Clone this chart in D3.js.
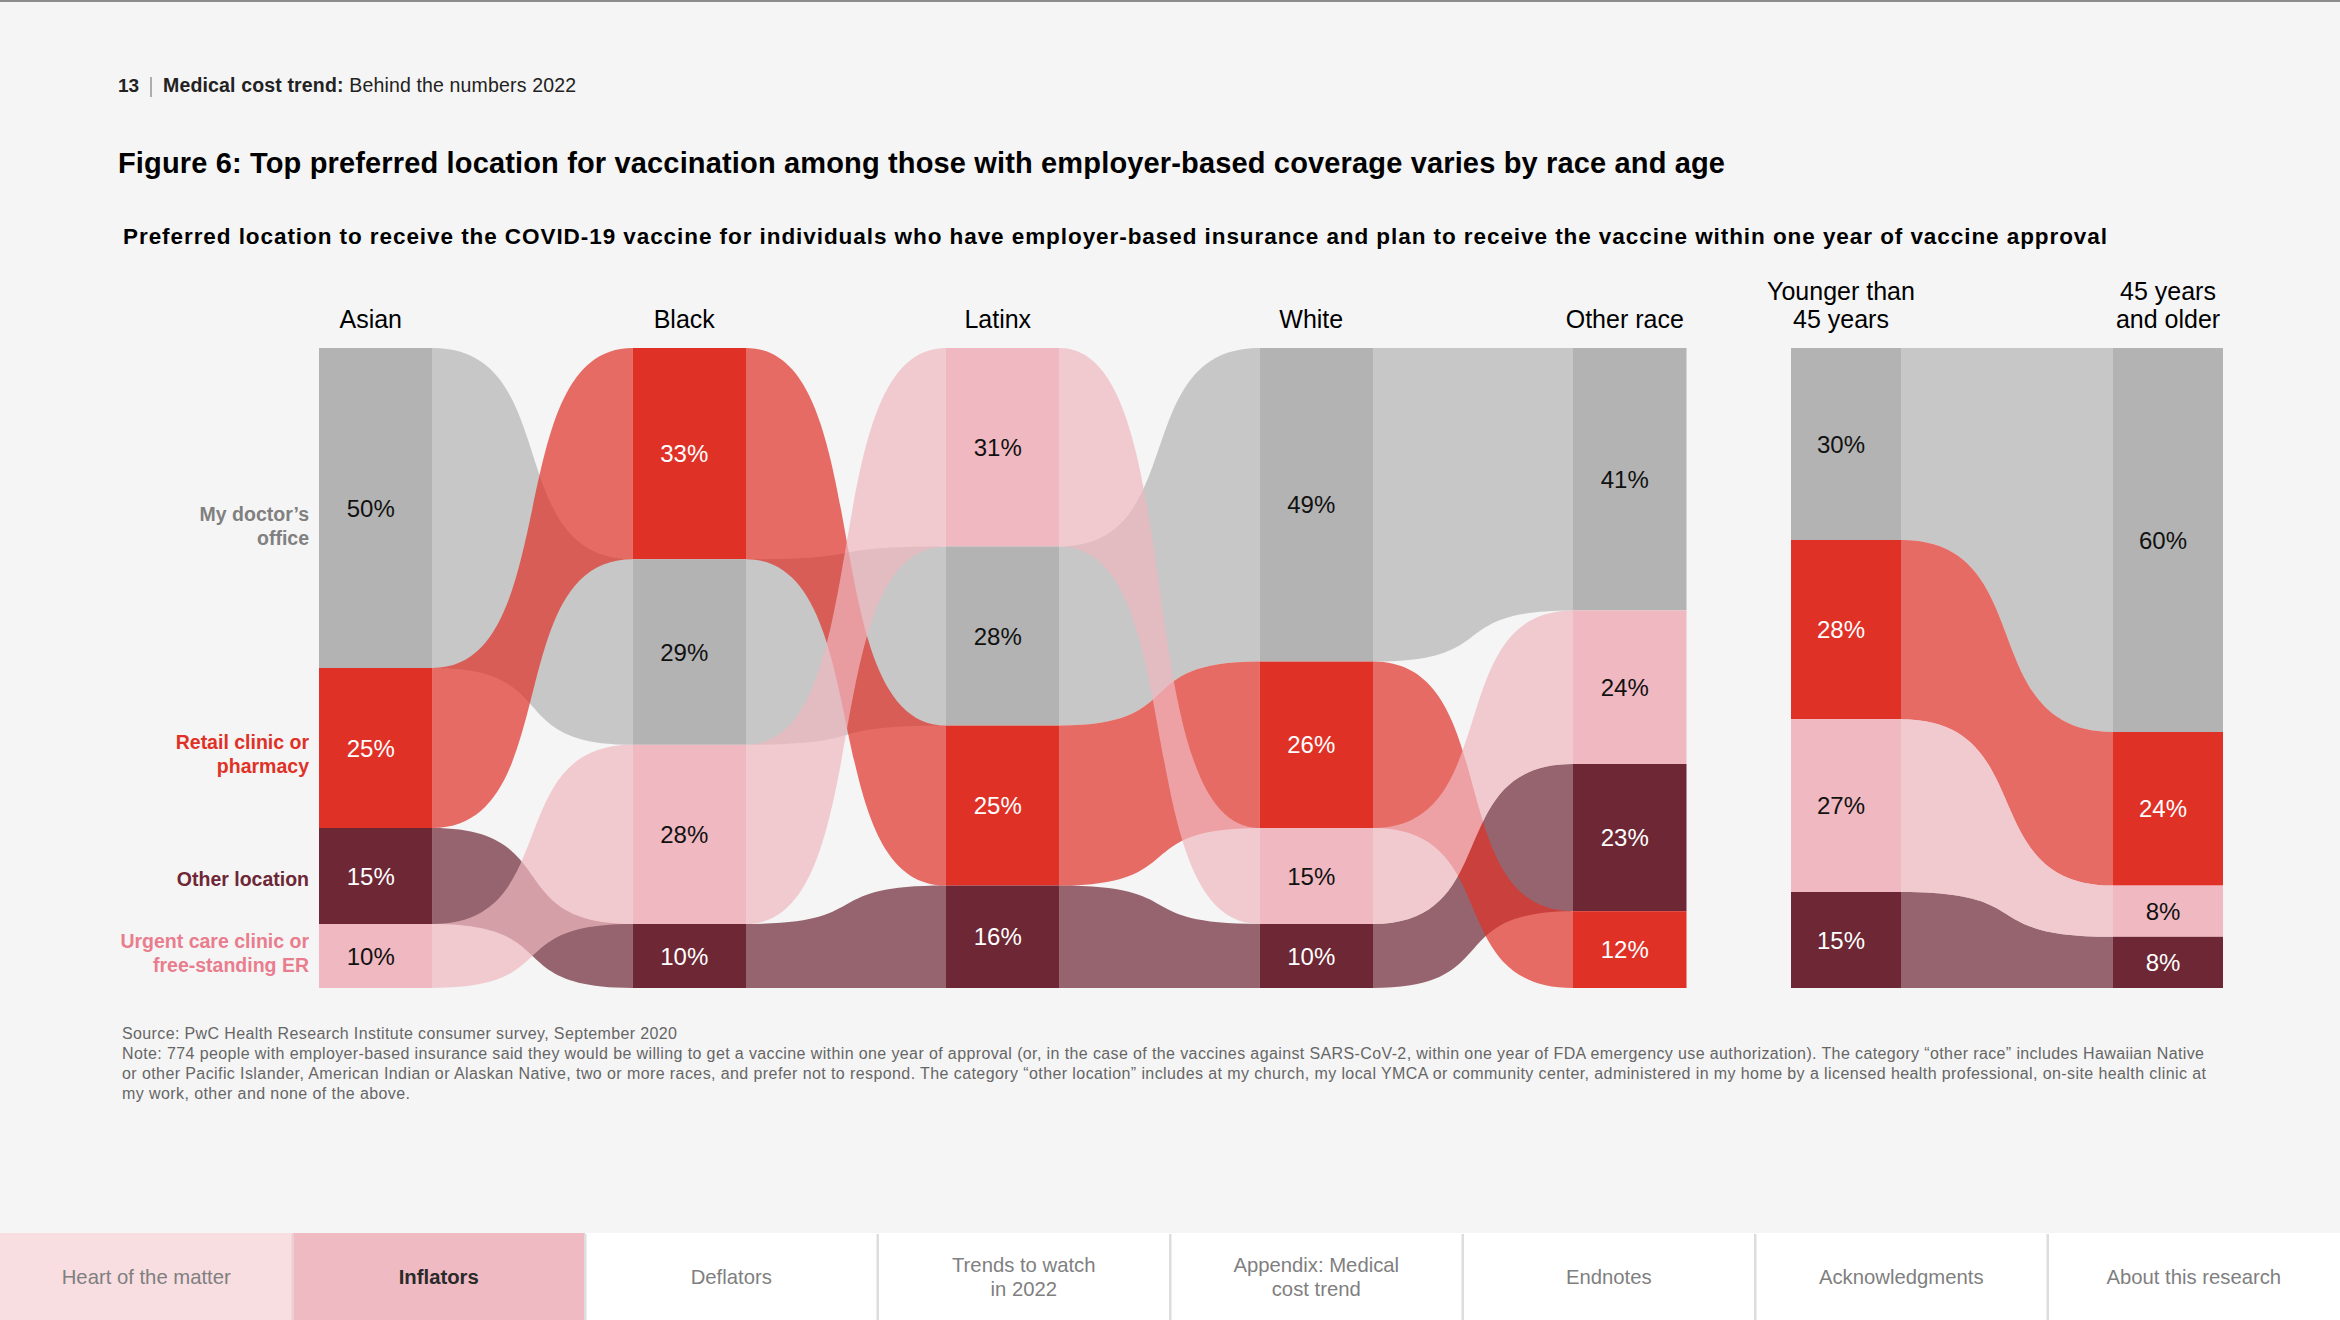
<!DOCTYPE html>
<html><head><meta charset="utf-8">
<script src="https://cdn.jsdelivr.net/npm/d3@7"></script>
<style>
html,body{margin:0;padding:0;background:#f5f5f5;}
svg{display:block;font-family:"Liberation Sans",Arial,Helvetica,sans-serif;}
</style></head><body>
<svg id="c" width="2340" height="1320"></svg>
<script>
// ---------- DATA ----------
const categories = ["doctor", "retail", "urgent", "other"];
const categoryLabels = [["My doctor’s", "office"], ["Retail clinic or", "pharmacy"], ["Urgent care clinic or", "free-standing ER"], ["Other location"]];
const raceGroups = ["Asian", "Black", "Latinx", "White", "Other race"];
const ageGroups = ["Younger than 45 years", "45 years and older"];
const ageGroupLines = [["Younger than", "45 years"], ["45 years", "and older"]];
// order of values: Asian, Black, Latinx, White, Other race, Younger than 45, 45 and older
const doctorValues = [50, 29, 28, 49, 41, 30, 60];
const retailValues = [25, 33, 25, 26, 12, 28, 24];
const urgentValues = [10, 28, 31, 15, 24, 27, 8];
const otherValues  = [15, 10, 16, 10, 23, 15, 8];
const navItems = [["Heart of the matter"], ["Inflators"], ["Deflators"], ["Trends to watch", "in 2022"], ["Appendix: Medical", "cost trend"], ["Endnotes"], ["Acknowledgments"], ["About this research"]];
const noteLines = [
  "Source: PwC Health Research Institute consumer survey, September 2020",
  "Note: 774 people with employer-based insurance said they would be willing to get a vaccine within one year of approval (or, in the case of the vaccines against SARS-CoV-2, within one year of FDA emergency use authorization). The category “other race” includes Hawaiian Native",
  "or other Pacific Islander, American Indian or Alaskan Native, two or more races, and prefer not to respond. The category “other location” includes at my church, my local YMCA or community center, administered in my home by a licensed health professional, on-site health clinic at",
  "my work, other and none of the above."
];
const noteWidths = [555, 2082, 2084, 288];

// ---------- STYLE ----------
const barColors = {doctor: "#b3b3b3", retail: "#e03127", urgent: "#f0b8c1", other: "#6d2735"};
const labelColors = {doctor: "#808080", retail: "#e03127", urgent: "#e97d8e", other: "#6d2735"};
const labelShift = {doctor: 18, retail: 6, urgent: -3, other: 3};
const textOnBar = {doctor: "#111", retail: "#fff", urgent: "#111", other: "#fff"};
const valuesByCat = {doctor: doctorValues, retail: retailValues, urgent: urgentValues, other: otherValues};

const svg = d3.select("#c");
svg.append("rect").attr("width", 2340).attr("height", 1320).attr("fill", "#f5f5f5");
svg.append("rect").attr("width", 2340).attr("height", 2).attr("fill", "#8c8c8c");

// header
const hdr = svg.append("text").attr("x", 118).attr("y", 92).attr("font-size", 19).attr("fill", "#222");
hdr.append("tspan").attr("font-weight", "bold").text("13");
svg.append("line").attr("x1", 151).attr("x2", 151).attr("y1", 77).attr("y2", 97).attr("stroke", "#666").attr("stroke-width", 1);
const hdr2 = svg.append("text").attr("x", 163).attr("y", 92).attr("font-size", 19.5).attr("fill", "#222")
  .attr("textLength", 413).attr("lengthAdjust", "spacing");
hdr2.append("tspan").attr("font-weight", "bold").text("Medical cost trend:");
hdr2.append("tspan").text(" Behind the numbers 2022");

svg.append("text").attr("x", 118).attr("y", 173).attr("font-size", 29).attr("font-weight", "bold").attr("fill", "#000")
  .attr("textLength", 1607).attr("lengthAdjust", "spacing")
  .text("Figure 6: Top preferred location for vaccination among those with employer-based coverage varies by race and age");
svg.append("text").attr("x", 123).attr("y", 244).attr("font-size", 22.5).attr("font-weight", "bold").attr("fill", "#000")
  .attr("textLength", 1984).attr("lengthAdjust", "spacing")
  .text("Preferred location to receive the COVID-19 vaccine for individuals who have employer-based insurance and plan to receive the vaccine within one year of vaccine approval");

// ---------- SCALES ----------
const y = d3.scaleLinear().domain([0, 100]).range([348, 988]);
const xRace = d3.scalePoint().domain(raceGroups).range([319, 1573]);
const xAge = d3.scalePoint().domain(ageGroups).range([1791, 2113]);
const raceW = 113.5, ageW = 110;

const columns = [];
raceGroups.forEach((g, i) => columns.push({key: g, lines: [g], x0: xRace(g), w: raceW, idx: i, panel: 0}));
ageGroups.forEach((g, i) => columns.push({key: g, lines: ageGroupLines[i], x0: xAge(g), w: ageW, idx: raceGroups.length + i, panel: 1, last: i === ageGroups.length - 1}));

columns.forEach(c => {
  const segs = categories.map((cat, ci) => ({cat, ci, v: valuesByCat[cat][c.idx]}));
  const sorted = segs.slice().sort((a, b) => (b.v - a.v) || (a.ci - b.ci));
  let acc = 0;
  sorted.forEach(s => { s.t0 = acc; acc += s.v; s.t1 = acc; });
  c.seg = {};
  sorted.forEach(s => c.seg[s.cat] = s);
  c.sorted = sorted;
});

// ---------- FLOWS ----------
const k = 0.66;
function flowPath(a, b, cat) {
  const x0 = a.x0 + a.w, x1 = b.x0, w = x1 - x0;
  const sa = a.seg[cat], sb = b.seg[cat];
  const ya0 = y(sa.t0), ya1 = y(sa.t1), yb0 = y(sb.t0), yb1 = y(sb.t1);
  const p = d3.path();
  p.moveTo(x0, ya0);
  p.bezierCurveTo(x0 + k * w, ya0, x1 - k * w, yb0, x1, yb0);
  p.lineTo(x1, yb1);
  p.bezierCurveTo(x1 - k * w, yb1, x0 + k * w, ya1, x0, ya1);
  p.closePath();
  return p.toString();
}
const links = [];
const flowOrder = ["doctor", "other", "retail", "urgent"];
flowOrder.forEach(cat => {
  for (let i = 0; i < columns.length - 1; i++) {
    if (columns[i].panel !== columns[i + 1].panel) continue;
    links.push({a: columns[i], b: columns[i + 1], cat});
  }
});
svg.append("g").selectAll("path").data(links).join("path")
  .attr("d", d => flowPath(d.a, d.b, d.cat))
  .attr("fill", d => barColors[d.cat]).attr("fill-opacity", 0.7);

// ---------- BARS ----------
const bars = svg.append("g");
columns.forEach(c => {
  const g = bars.append("g");
  g.selectAll("rect").data(c.sorted).join("rect")
    .attr("x", c.x0).attr("width", c.w)
    .attr("y", d => y(d.t0)).attr("height", d => y(d.t1) - y(d.t0))
    .attr("fill", d => barColors[d.cat]);
  g.selectAll("text").data(c.sorted).join("text")
    .attr("x", c.x0 + c.w / 2 - 5).attr("y", d => (y(d.t0) + y(d.t1)) / 2)
    .attr("dy", "0.36em").attr("text-anchor", "middle").attr("font-size", 24)
    .attr("fill", d => textOnBar[d.cat]).text(d => d.v + "%");
  // column header
  const hx = c.x0 + c.w / 2 - (c.last ? 0 : 5);
  const n = c.lines.length;
  const ht = svg.append("text").attr("text-anchor", "middle").attr("font-size", 25).attr("fill", "#000");
  c.lines.forEach((ln, li) => {
    ht.append("tspan").attr("x", hx).attr("y", 328 - (n - 1 - li) * 28.5).text(ln);
  });
});

// ---------- ROW LABELS ----------
const first = columns[0];
categories.forEach((cat, ci) => {
  const s = first.seg[cat];
  const lines = categoryLabels[ci];
  const cy = (y(s.t0) + y(s.t1)) / 2 + labelShift[cat];
  const t = svg.append("text").attr("text-anchor", "end").attr("font-size", 19.5).attr("font-weight", "bold").attr("fill", labelColors[cat]);
  lines.forEach((ln, li) => {
    t.append("tspan").attr("x", 309).attr("y", cy + 7 + (li - (lines.length - 1) / 2) * 23.5).text(ln);
  });
});

// ---------- NOTES ----------
noteLines.forEach((ln, i) => {
  svg.append("text").attr("x", 122).attr("y", 1039 + i * 20).attr("font-size", 16).attr("fill", "#666")
    .attr("textLength", noteWidths[i]).attr("lengthAdjust", "spacing").text(ln);
});

// ---------- NAV ----------
const tabW = 2340 / navItems.length;
const nav = svg.append("g");
navItems.forEach((lines, i) => {
  const bg = i === 0 ? "#f8dde1" : (i === 1 ? "#f0bac3" : "#ffffff");
  nav.append("rect").attr("x", i * tabW).attr("y", 1233).attr("width", tabW).attr("height", 87).attr("fill", bg);
  if (i > 0) nav.append("rect").attr("x", i * tabW - 1).attr("y", 1234).attr("width", 2.5).attr("height", 86).attr("fill", i === 1 ? "#ead0d4" : "#dddddd");
  const t = nav.append("text").attr("text-anchor", "middle").attr("font-size", 20.3)
    .attr("fill", i === 1 ? "#2a2a2a" : "#7f7f7f").attr("font-weight", i === 1 ? "bold" : "normal");
  lines.forEach((ln, li) => {
    t.append("tspan").attr("x", i * tabW + tabW / 2).attr("y", 1284 + (li - (lines.length - 1) / 2) * 24).text(ln);
  });
});
</script>
</body></html>
